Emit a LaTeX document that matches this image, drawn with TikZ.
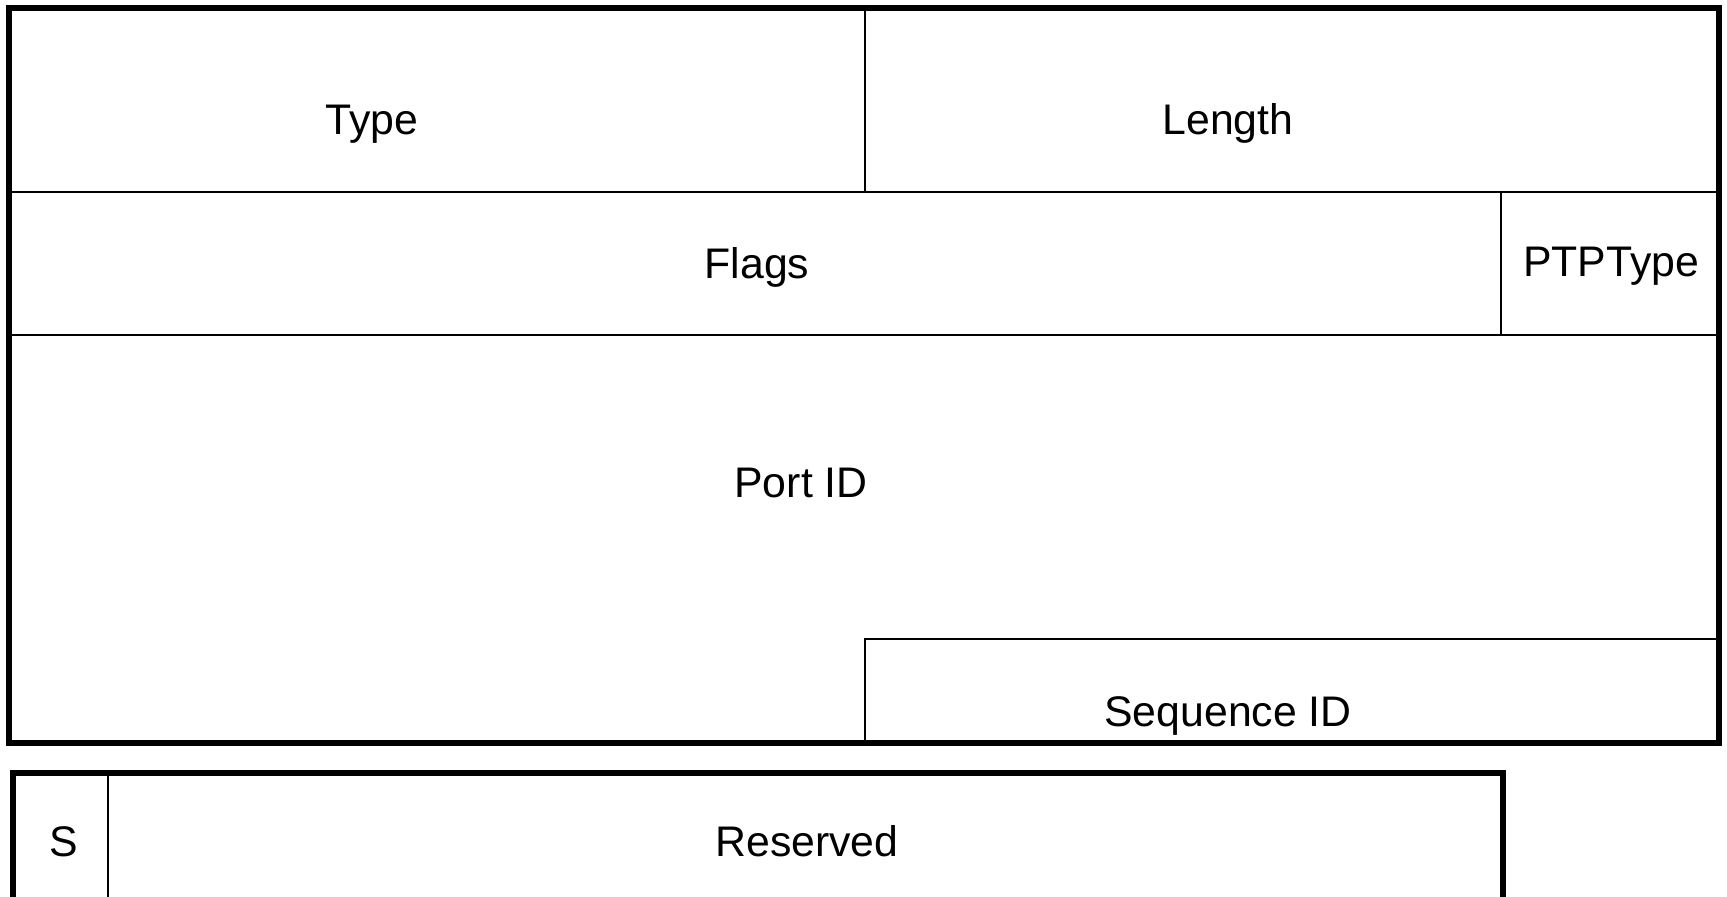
\documentclass[tikz,border=0pt]{standalone}
\usepackage{fontspec}
\setmainfont{Liberation Sans}
\usetikzlibrary{positioning}

\tikzset{
  field/.style={line width=0.7pt},
  frame/.style={line width=2.6pt},
  lbl/.style={inner sep=0pt, anchor=base}
}

\begin{document}
\begin{tikzpicture}[x=0.5pt, y=-0.5pt, font=\fontsize{21.4}{25}\selectfont]
    \useasboundingbox (0,0) rectangle (1727,896);
    \clip (0,0) rectangle (1727,896);

    % header fields
    \draw[field] (9,8) rectangle (865,192);
    \draw[field] (865,8) rectangle (1719,192);
    \draw[field] (9,192) rectangle (1501,335);
    \draw[field] (1501,192) rectangle (1719,335);
    \draw[field] (865,639) rectangle (1719,743);
    \draw[frame] (9,8) rectangle (1719,743);

    \node[lbl] (type) at (372,134) {Type};
    \node[lbl] (length) at (1228,134) {Length};
    \node[lbl] (flags) at (757,278) {Flags};
    \node[lbl] (ptptype) at (1611,276) {PTPType};
    \node[lbl] (portid) at (801,497) {Port ID};
    \node[lbl] (seqid) at (1228,726) {Sequence ID};

    % flag word
    \draw[field] (108,773) -- (108,920);
    \draw[frame] (13,773) rectangle (1503,940);

    \node[lbl] (s) at (64,856) {S};
    \node[lbl] (reserved) at (807,856) {Reserved};
\end{tikzpicture}
\end{document}
